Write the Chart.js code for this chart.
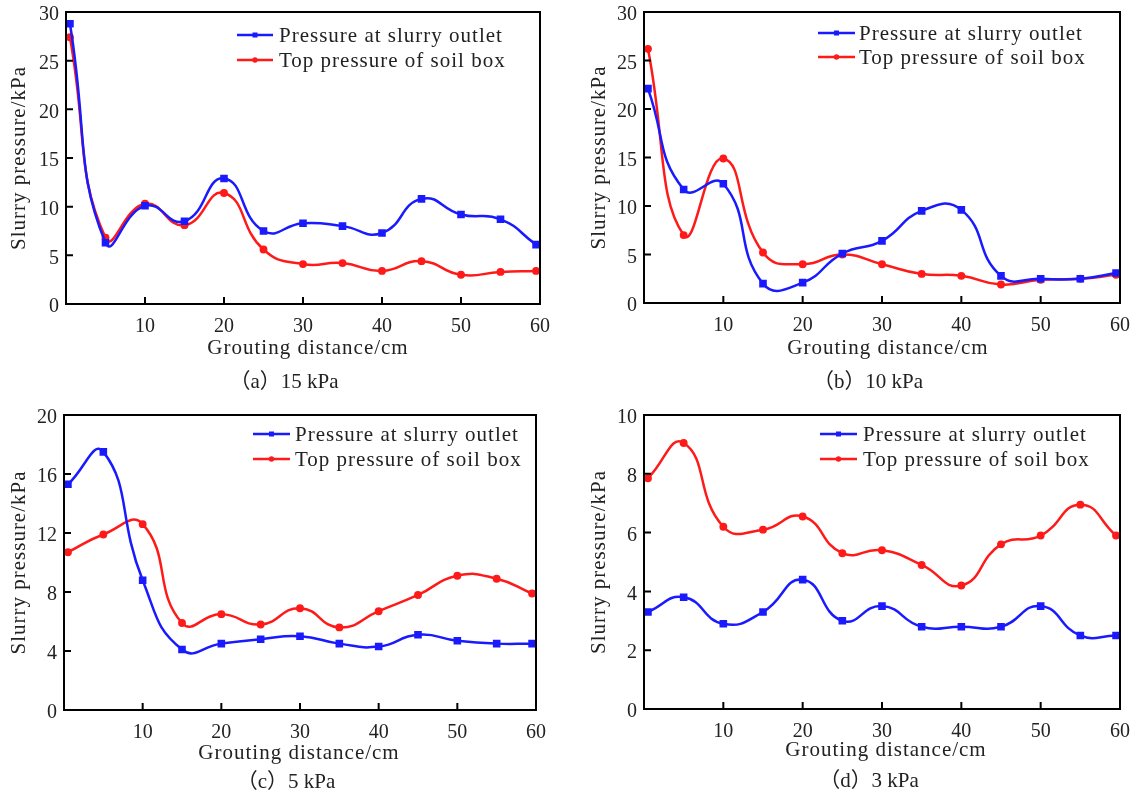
<!DOCTYPE html>
<html><head><meta charset="utf-8">
<script src="https://cdn.jsdelivr.net/npm/chart.js@4/dist/chart.umd.min.js"></script>
<style>
html,body{margin:0;padding:0;background:#fff;}
#wrap{position:relative;width:1132px;height:796px;overflow:hidden;background:#fff;}
.panel{position:absolute;width:566px;height:398px;}
canvas{display:block;}
</style></head><body>
<div id="wrap">
<div class="panel" style="left:0;top:0"><canvas id="ca" width="566" height="398"></canvas></div>
<div class="panel" style="left:566px;top:0"><canvas id="cb" width="566" height="398"></canvas></div>
<div class="panel" style="left:0;top:398px"><canvas id="cc" width="566" height="398"></canvas></div>
<div class="panel" style="left:566px;top:398px"><canvas id="cd" width="566" height="398"></canvas></div>
</div>
<script>
// ---- data ----
const distances = [0.5, 5, 10, 15, 20, 25, 30, 35, 40, 45, 50, 55, 59.5];
const outletA = [28.8, 6.3, 10.1, 8.5, 12.9, 7.5, 8.3, 8.0, 7.3, 10.8, 9.2, 8.7, 6.1];
const topA    = [27.4, 6.8, 10.3, 8.1, 11.4, 5.6, 4.1, 4.2, 3.4, 4.4, 3.0, 3.3, 3.4];
const outletB = [22.1, 11.7, 12.3, 2.0, 2.1, 5.1, 6.4, 9.5, 9.6, 2.8, 2.5, 2.5, 3.1];
const topB    = [26.2, 7.0, 14.9, 5.2, 4.0, 5.0, 4.0, 3.0, 2.8, 1.9, 2.4, 2.5, 2.9];
const outletC = [15.3, 17.5, 8.8, 4.1, 4.5, 4.8, 5.0, 4.5, 4.3, 5.1, 4.7, 4.5, 4.5];
const topC    = [10.7, 11.9, 12.6, 5.9, 6.5, 5.8, 6.9, 5.6, 6.7, 7.8, 9.1, 8.9, 7.9];
const outletD = [3.3, 3.8, 2.9, 3.3, 4.4, 3.0, 3.5, 2.8, 2.8, 2.8, 3.5, 2.5, 2.5];
const topD    = [7.85, 9.05, 6.2, 6.1, 6.55, 5.3, 5.4, 4.9, 4.2, 5.6, 5.9, 6.95, 5.9];
const seriesNames = ["Pressure at slurry outlet", "Top pressure of soil box"];
const captions = ["（a）15 kPa", "（b）10 kPa", "（c）5 kPa", "（d）3 kPa"];
const xTitle = "Grouting distance/cm";
const yTitle = "Slurry pressure/kPa";
const xMax = 60, xStep = 10;
const yMaxes = [30, 30, 20, 10];
const ySteps = [5, 5, 4, 2];

// ---- layout (not data) ----
const panels = [
  {id:'ca', outlet:outletA, top:topA, pad:{left:0,right:26,top:12}, yW:66, xH:94, yTx:19, xTy:348, capY:382, xTx:308, capX:284, leg:{x1:237,x2:273,tx:279,y1:35,y2:60}},
  {id:'cb', outlet:outletB, top:topB, pad:{left:0,right:12,top:12}, yW:78, xH:95, yTx:33, xTy:348, capY:382, xTx:322, capX:302, leg:{x1:252,x2:289,tx:293,y1:33,y2:57}},
  {id:'cc', outlet:outletC, top:topC, pad:{left:0,right:30,top:17}, yW:64, xH:86, yTx:19, xTy:355, capY:384, xTx:299, capX:286, leg:{x1:253,x2:290,tx:295,y1:36,y2:61}},
  {id:'cd', outlet:outletD, top:topD, pad:{left:0,right:12,top:17}, yW:78, xH:87, yTx:33, xTy:352, capY:383, xTx:320, capX:303, leg:{x1:254,x2:291,tx:297,y1:36,y2:61}},
];

const FONT = '"Liberation Serif", "Noto Sans CJK SC", serif';
const TXT = '#222';
const BLUE = '#1a1aff';
const RED = '#ff1a1a';

function decorPlugin(p, idx){
  return {
    id:'decor'+idx,
    afterDraw(chart){
      const ctx = chart.ctx, a = chart.chartArea;
      const xs = chart.scales.x, ys = chart.scales.y;
      ctx.save();
      // inward ticks
      ctx.strokeStyle = '#000'; ctx.lineWidth = 2;
      ctx.beginPath();
      xs.ticks.forEach(t => { const px = xs.getPixelForValue(t.value); if (t.value > 0 && t.value < xMax) { ctx.moveTo(px, a.bottom); ctx.lineTo(px, a.bottom - 7); } });
      ys.ticks.forEach(t => { const py = ys.getPixelForValue(t.value); if (t.value > 0 && t.value < yMaxes[idx]) { ctx.moveTo(a.left, py); ctx.lineTo(a.left + 7, py); } });
      ctx.stroke();
      // frame
      ctx.strokeRect(a.left, a.top, a.right - a.left, a.bottom - a.top);
      // legend
      const L = p.leg;
      const ds = chart.data.datasets;
      [[L.y1, ds[0]], [L.y2, ds[1]]].forEach(([yy, d]) => {
        ctx.strokeStyle = d.borderColor; ctx.lineWidth = 2.5;
        ctx.beginPath(); ctx.moveTo(L.x1, yy); ctx.lineTo(L.x2, yy); ctx.stroke();
        const mx = (L.x1 + L.x2) / 2;
        ctx.fillStyle = d.borderColor;
        if (d.pointStyle === 'rect') ctx.fillRect(mx - 2.5, yy - 2.5, 5, 5);
        else { ctx.beginPath(); ctx.arc(mx, yy, 2.7, 0, Math.PI * 2); ctx.fill(); }
        ctx.fillStyle = TXT; ctx.font = '21px ' + FONT; ctx.textAlign = 'left'; ctx.textBaseline = 'middle';
        ctx.letterSpacing = '1px';
        ctx.fillText(d.label, L.tx, yy + 1);
      });
      // axis titles & caption
      ctx.fillStyle = TXT; ctx.textAlign = 'center'; ctx.textBaseline = 'middle';
      ctx.font = '21px ' + FONT; ctx.letterSpacing = '1px';
      ctx.fillText(xTitle, p.xTx, p.xTy);
      ctx.letterSpacing = '0px';
      ctx.fillText(captions[idx], p.capX, p.capY);
      ctx.letterSpacing = '1px';
      ctx.save();
      ctx.translate(p.yTx, (a.top + a.bottom) / 2);
      ctx.rotate(-Math.PI / 2);
      ctx.fillText(yTitle, 0, 0);
      ctx.restore();
      ctx.restore();
    }
  };
}

panels.forEach((p, idx) => {
  const mk = arr => distances.map((x, i) => ({x: x, y: arr[i]}));
  new Chart(document.getElementById(p.id), {
    type: 'line',
    data: { datasets: [
      { label: seriesNames[0], data: mk(p.outlet), borderColor: BLUE, backgroundColor: BLUE, pointStyle: 'rect', pointRadius: 3.6, borderWidth: 2.5, tension: 0.5, fill: false },
      { label: seriesNames[1], data: mk(p.top), borderColor: RED, backgroundColor: RED, pointStyle: 'circle', pointRadius: 2.7, borderWidth: 2.5, tension: 0.5, fill: false },
    ]},
    options: {
      responsive: false, animation: false, devicePixelRatio: 1,
      layout: { padding: { left: p.pad.left, right: p.pad.right, top: p.pad.top, bottom: 0 } },
      plugins: { legend: { display: false }, tooltip: { enabled: false } },
      elements: { point: { borderWidth: 0 } },
      scales: {
        x: { type: 'linear', min: 0, max: xMax,
             ticks: { stepSize: xStep, autoSkip: false, maxRotation: 0, padding: 11, color: TXT, font: { family: FONT, size: 20 },
                      callback: v => v === 0 ? '' : String(v) },
             grid: { display: false, drawTicks: false }, border: { display: false },
             afterFit: s => { s.height = p.xH; s.paddingLeft = 0; s.paddingRight = 0; } },
        y: { type: 'linear', min: 0, max: yMaxes[idx],
             ticks: { stepSize: ySteps[idx], autoSkip: false, padding: 7, labelOffset: 3, color: TXT, font: { family: FONT, size: 20 } },
             grid: { display: false, drawTicks: false }, border: { display: false },
             afterFit: s => { s.width = p.yW; s.paddingTop = 0; s.paddingBottom = 0; } }
      }
    },
    plugins: [decorPlugin(p, idx)]
  });
});
</script>
</body></html>
